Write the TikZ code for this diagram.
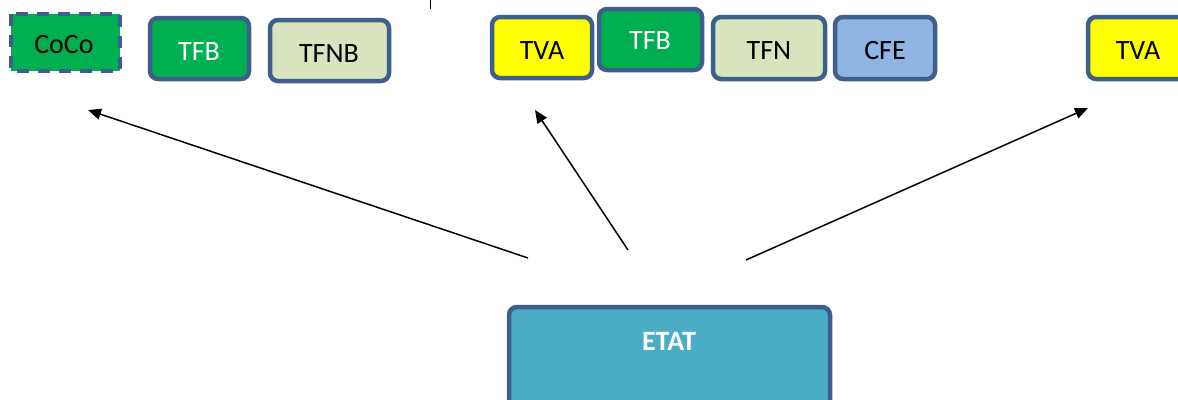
\documentclass[tikz,border=0pt]{standalone}
\usepackage{fontspec}
\setmainfont{Carlito}
\usetikzlibrary{arrows.meta}
\definecolor{bord}{HTML}{3E5F8C}
\definecolor{gr}{HTML}{00B050}
\definecolor{lg}{HTML}{D7E4BD}
\definecolor{yl}{HTML}{FFFF00}
\definecolor{bl}{HTML}{8EB4E3}
\definecolor{tq}{HTML}{4BACC6}
\newcommand{\bigtxt}{\fontsize{28}{32}\selectfont}
\begin{document}
\begin{tikzpicture}[x=1pt,y=-1pt,
  box/.style={draw=bord,line width=4.5pt,rounded corners=8pt},
  lbl/.style={font=\bigtxt,inner sep=0pt},
  arr/.style={-{Triangle[length=13pt,width=11pt]},line width=1.5pt}]
\useasboundingbox (0,0) rectangle (1178,399);
\clip (0,0) rectangle (1178,399);
\draw[box,fill=gr,rounded corners=0pt,dash pattern=on 12pt off 9pt] (11,14) rectangle (120,71);
\node[lbl] (coco) at (64,45) {CoCo};
\draw[box,fill=gr] (150,18) rectangle (249,79);
\node[lbl,text=white] (tfb1) at (199,52) {TFB};
\draw[box,fill=lg] (270,20) rectangle (389,81);
\node[lbl] (tfnb) at (329,54) {TFNB};
\draw[line width=1pt] (430,0) -- (430,9);
\draw[box,fill=yl] (492,17) rectangle (592,78);
\node[lbl] (tva1) at (542,51) {TVA};
\draw[box,fill=gr] (599,9) rectangle (702,70);
\node[lbl,text=white] (tfb2) at (650,41) {TFB};
\draw[box,fill=lg] (713,17) rectangle (825,79);
\node[lbl] (tfn) at (769,51) {TFN};
\draw[box,fill=bl] (835,17) rectangle (935,79);
\node[lbl] (cfe) at (885,51) {CFE};
\draw[box,fill=yl] (1088,17) rectangle (1195,79);
\node[lbl] (tva2) at (1138,51) {TVA};
\draw[box,fill=tq] (509,307) rectangle (830,420);
\node[lbl,text=white] (etat) at (669,341) {\bfseries ETAT};
\coordinate (s1) at (528,258);
\coordinate (s2) at (628,250);
\coordinate (s3) at (746,260);
\coordinate (e1) at (88,110);
\coordinate (e2) at (535,110);
\coordinate (e3) at (1088,108);
\draw[arr] (s1) -- (e1);
\draw[arr] (s2) -- (e2);
\draw[arr] (s3) -- (e3);
\end{tikzpicture}
\end{document}
